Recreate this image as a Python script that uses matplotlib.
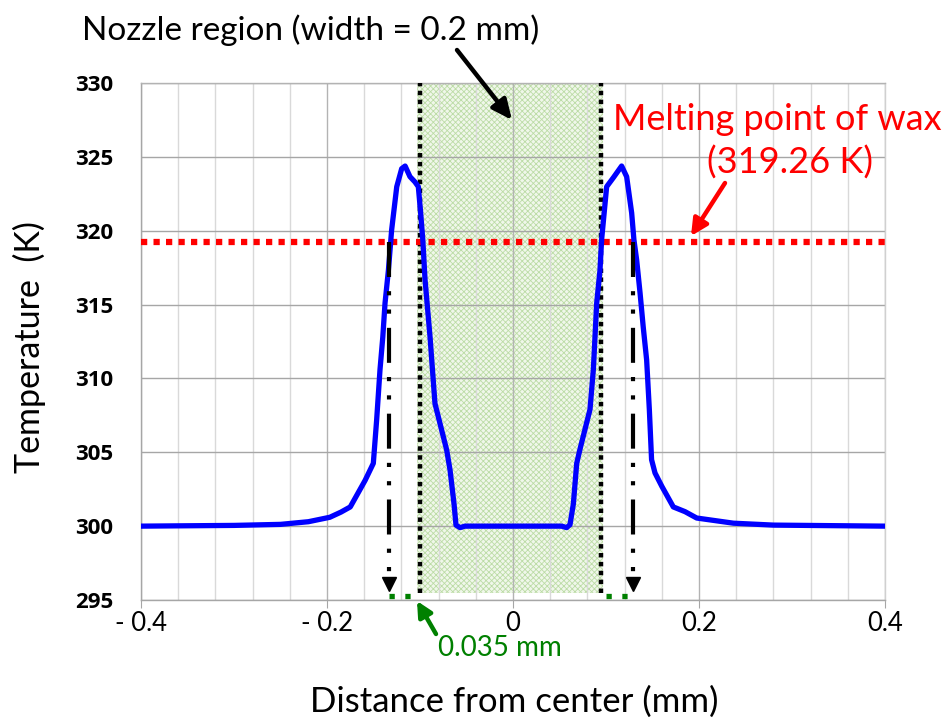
import matplotlib
matplotlib.use("Agg")
import matplotlib.pyplot as plt
from matplotlib.ticker import MultipleLocator

plt.rcParams['font.family'] = ['Lato', 'DejaVu Sans']
plt.rcParams['hatch.linewidth'] = 0.6

# Temperature profile across the nozzle cross-section
distance_mm = [-0.400, -0.300, -0.250, -0.220, -0.197, -0.185, -0.175, -0.159,
               -0.1502, -0.1466, -0.143, -0.140, -0.1376, -0.134, -0.1305,
               -0.125, -0.1197, -0.116, -0.1108, -0.1054, -0.1018, -0.0993,
               -0.097, -0.0946, -0.0892, -0.0839, -0.0713, -0.0677, -0.0634,
               -0.0613, -0.057, -0.0516,
               0.0523, 0.0577, 0.0613, 0.0649, 0.0685, 0.072, 0.0828, 0.0864,
               0.090, 0.0935, 0.0953, 0.1007, 0.108, 0.1168, 0.1222, 0.1276,
               0.130, 0.133, 0.1366, 0.140, 0.1437, 0.1466, 0.149, 0.1527,
               0.160, 0.1724, 0.185, 0.1975, 0.237, 0.280, 0.400]
temperature_K = [300.00, 300.05, 300.12, 300.30, 300.60, 300.95, 301.30, 303.10,
                 304.25, 307.20, 310.60, 312.80, 315.10, 317.30, 320.05,
                 322.98, 324.20, 324.38, 323.66, 323.30, 322.98, 321.20,
                 319.40, 316.70, 312.80, 308.30, 305.15, 303.80, 301.50,
                 300.07, 299.90, 300.00,
                 300.00, 299.90, 300.10, 301.50, 304.25, 305.20, 307.90, 310.60,
                 315.10, 317.30, 319.40, 322.98, 323.60, 324.38, 323.66, 321.20,
                 319.40, 318.00, 315.80, 313.50, 311.25, 307.90, 304.50, 303.60,
                 302.70, 301.30, 300.98, 300.55, 300.20, 300.07, 300.00]

melting_point_K = 319.26
nozzle_span = (-0.1035, 0.0965)
nozzle_edges = [-0.0995, 0.0945]
melt_front = [-0.1333, 0.1290]

x_ticks = [-0.4, -0.2, 0.0, 0.2, 0.4]
x_tick_labels = ['- 0.4', '- 0.2', '0', '0.2', '0.4']
y_ticks = [295, 300, 305, 310, 315, 320, 325, 330]

W, H = 948, 720
fig = plt.figure(figsize=(W / 100, H / 100), dpi=100)
ax = fig.add_axes([141 / W, 1 - 600 / H, 744 / W, 517 / H])


def fpx(x, y):
    """Figure fraction from pixel position measured from the top-left."""
    return (x / W, 1 - y / H)


ax.set_xlim(-0.4, 0.4)
ax.set_ylim(295, 330)

# grid
ax.xaxis.set_minor_locator(MultipleLocator(0.04))
ax.set_xticks(x_ticks)
ax.set_xticklabels(x_tick_labels, fontsize=18.5)
ax.set_yticks(y_ticks)
ax.set_yticklabels([str(v) for v in y_ticks], fontsize=16, fontweight='bold',
                   family=['Open Sans', 'DejaVu Sans'])
ax.grid(which='minor', axis='x', color='#d9d9d9', lw=1.0, zorder=0)
ax.grid(which='major', axis='x', color='#b3b3b3', lw=1.0, zorder=0)
ax.grid(which='major', axis='y', color='#a6a6a6', lw=1.0, zorder=0)
ax.set_axisbelow(True)
ax.tick_params(axis='x', which='major', length=6, color='#a6a6a6', pad=2)
ax.tick_params(axis='x', which='minor', length=0)
ax.tick_params(axis='y', length=0, pad=20)
for side, sp in ax.spines.items():
    sp.set_color('#a6a6a6')
    sp.set_linewidth(1.0)
ax.spines['top'].set_color('#b3b3b3')
ax.spines['right'].set_color('#d0d0d0')

# nozzle region
ax.fill_between(nozzle_span, 295.45, 330, facecolor='#f0f7ea',
                edgecolor='#bcdca6', hatch='xxxxxx', lw=0, zorder=0.5)
for xe in nozzle_edges:
    ax.plot([xe, xe], [295.45, 330], color='black', lw=3.2,
            linestyle=(0, (1, 1)), dash_capstyle='butt', zorder=3)

# melting point
ax.axhline(melting_point_K, color='#ff0000', lw=4.5, linestyle=(0, (1, 1)),
           dash_capstyle='butt', zorder=4)

# temperature profile
ax.plot(distance_mm, temperature_K, color='#0000ff', lw=3.8, zorder=5,
        solid_joinstyle='round')

# melt front projections
for xm in melt_front:
    ax.plot([xm, xm], [melting_point_K, 296.4], color='black', lw=3.0,
            linestyle=(0, (8.4, 3.4, 1, 3.4, 1, 3.4)), dash_capstyle='butt',
            zorder=6)
    ax.plot([xm], [296.05], marker='v', ms=10, color='black', mec='black',
            lw=0, zorder=6)

# molten layer thickness beyond the nozzle wall
ax.plot([melt_front[0], nozzle_edges[0]], [295.3, 295.3], color='#008000',
        lw=3.8, linestyle=(0, (1, 2)), dash_capstyle='butt', zorder=7,
        clip_on=False)
ax.plot([nozzle_edges[1] + 0.006, melt_front[1]], [295.3, 295.3],
        color='#008000', lw=3.8, linestyle=(0, (1, 2)), dash_capstyle='butt',
        zorder=7, clip_on=False)

# axis labels
fig.text(*fpx(514, 702), 'Distance from center (mm)', fontsize=25,
         ha='center', va='center')
fig.text(*fpx(29, 347), 'Temperature  (K)', fontsize=24.5, rotation=90,
         ha='center', va='center')

# annotations
fig.text(*fpx(311, 30), 'Nozzle region (width = 0.2 mm)', fontsize=24,
         ha='center', va='center')
ax.annotate('', xy=fpx(512, 120), xycoords='figure fraction',
            xytext=fpx(457, 50), textcoords='figure fraction',
            arrowprops=dict(arrowstyle='-|>,head_length=1.2,head_width=0.55',
                            color='black', lw=3.2, shrinkA=0, shrinkB=0),
            annotation_clip=False, zorder=8)

fig.text(*fpx(777, 120), 'Melting point of wax', fontsize=26, color='#ff0000',
         ha='center', va='center')
fig.text(*fpx(790, 163), '(319.26 K)', fontsize=26, color='#ff0000',
         ha='center', va='center')
ax.annotate('', xy=fpx(691, 236), xycoords='figure fraction',
            xytext=fpx(725, 183), textcoords='figure fraction',
            arrowprops=dict(arrowstyle='-|>,head_length=1.0,head_width=0.5',
                            color='#ff0000', lw=3.2, shrinkA=0, shrinkB=0),
            annotation_clip=False, zorder=8)

fig.text(*fpx(500, 648), '0.035 mm', fontsize=20, color='#008000',
         ha='center', va='center')
ax.annotate('', xy=fpx(417, 601), xycoords='figure fraction',
            xytext=fpx(436, 634), textcoords='figure fraction',
            arrowprops=dict(arrowstyle='-|>,head_length=0.9,head_width=0.45',
                            color='#008000', lw=3.2, shrinkA=0, shrinkB=0),
            annotation_clip=False, zorder=8)

fig.savefig('out.png', dpi=100)
